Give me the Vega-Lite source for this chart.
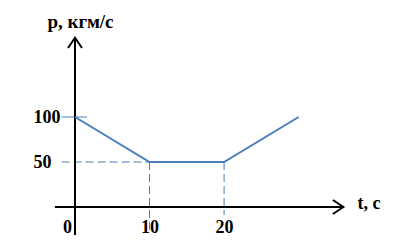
{
  "$schema": "https://vega.github.io/schema/vega-lite/v6.json",
  "width": 328,
  "height": 207,
  "autosize": {"type": "none"},
  "padding": {"left": 75, "top": 0, "right": 1, "bottom": 42},
  "config": {"view": {"stroke": null}},
  "datasets": {
    "momentum": [
      {"t": 0, "p": 100, "i": 0},
      {"t": 10, "p": 50, "i": 1},
      {"t": 20, "p": 50, "i": 2},
      {"t": 30, "p": 100, "i": 3}
    ],
    "dashed": [
      {"seg": "h50", "t": -1.8, "p": 50, "i": 0},
      {"seg": "h50", "t": 10, "p": 50, "i": 1},
      {"seg": "v10", "t": 10, "p": 50, "i": 0},
      {"seg": "v10", "t": 10, "p": -27.8, "i": 1},
      {"seg": "v20", "t": 20, "p": 50, "i": 0},
      {"seg": "v20", "t": 20, "p": -8.9, "i": 1}
    ],
    "tick": [
      {"seg": "t100", "t": -1.8, "p": 100, "i": 0},
      {"seg": "t100", "t": 1.6, "p": 100, "i": 1}
    ],
    "axes": [
      {"seg": "x", "t": -2.7, "p": 0, "i": 0},
      {"seg": "x", "t": 36, "p": 0, "i": 1},
      {"seg": "xa", "t": 34.6, "p": 7.8, "i": 0},
      {"seg": "xa", "t": 36, "p": 0, "i": 1},
      {"seg": "xa", "t": 34.6, "p": -7.8, "i": 2},
      {"seg": "y", "t": 0, "p": -31, "i": 0},
      {"seg": "y", "t": 0, "p": 188, "i": 1},
      {"seg": "ya", "t": -0.94, "p": 176.7, "i": 0},
      {"seg": "ya", "t": 0, "p": 188, "i": 1},
      {"seg": "ya", "t": 0.94, "p": 176.7, "i": 2}
    ]
  },
  "layer": [
    {
      "data": {"name": "dashed"},
      "mark": {"type": "line", "color": "#4A7EBB", "strokeWidth": 1, "strokeDash": [8, 4]},
      "encoding": {
        "x": {
          "field": "t", "type": "quantitative",
          "scale": {"domain": [0, 44], "nice": false, "zero": false},
          "axis": {
            "values": [0, 10, 20],
            "domain": false, "ticks": false, "grid": false,
            "labelFont": "Liberation Serif", "labelFontWeight": "bold", "labelFontSize": 18,
            "labelColor": "black", "labelPadding": 25, "labelBaseline": "alphabetic",
            "labelOverlap": false, "labelFlush": false,
            "labelOffset": {"condition": {"test": "datum.value == 0", "value": -8}, "value": 0},
            "title": "t, c",
            "titleFont": "Liberation Serif", "titleFontWeight": "bold", "titleFontSize": 18,
            "titleColor": "black", "titleX": 282, "titleY": 1,
            "titleAlign": "left", "titleBaseline": "alphabetic"
          }
        },
        "y": {
          "field": "p", "type": "quantitative",
          "scale": {"domain": [0, 230], "nice": false, "zero": false},
          "axis": {
            "values": [50, 100],
            "domain": false, "ticks": false, "grid": false,
            "labelFont": "Liberation Serif", "labelFontWeight": "bold", "labelFontSize": 18,
            "labelColor": "black", "labelPadding": 42, "labelAlign": "left",
            "labelBaseline": "middle", "labelOverlap": false, "labelFlush": false,
            "title": "p, кгм/с",
            "titleFont": "Liberation Serif", "titleFontWeight": "bold", "titleFontSize": 19,
            "titleColor": "black", "titleAngle": 0, "titleX": -28, "titleY": 27,
            "titleAlign": "left", "titleBaseline": "alphabetic"
          }
        },
        "detail": {"field": "seg"},
        "order": {"field": "i"}
      }
    },
    {
      "data": {"name": "tick"},
      "mark": {"type": "line", "color": "#4A7EBB", "strokeWidth": 1},
      "encoding": {
        "x": {"field": "t", "type": "quantitative"},
        "y": {"field": "p", "type": "quantitative"},
        "detail": {"field": "seg"},
        "order": {"field": "i"}
      }
    },
    {
      "data": {"name": "axes"},
      "mark": {"type": "line", "color": "black", "strokeWidth": 2},
      "encoding": {
        "x": {"field": "t", "type": "quantitative"},
        "y": {"field": "p", "type": "quantitative"},
        "detail": {"field": "seg"},
        "order": {"field": "i"}
      }
    },
    {
      "data": {"name": "momentum"},
      "mark": {"type": "line", "color": "#4A7EBB", "strokeWidth": 2},
      "encoding": {
        "x": {"field": "t", "type": "quantitative"},
        "y": {"field": "p", "type": "quantitative"},
        "order": {"field": "i"}
      }
    }
  ]
}
